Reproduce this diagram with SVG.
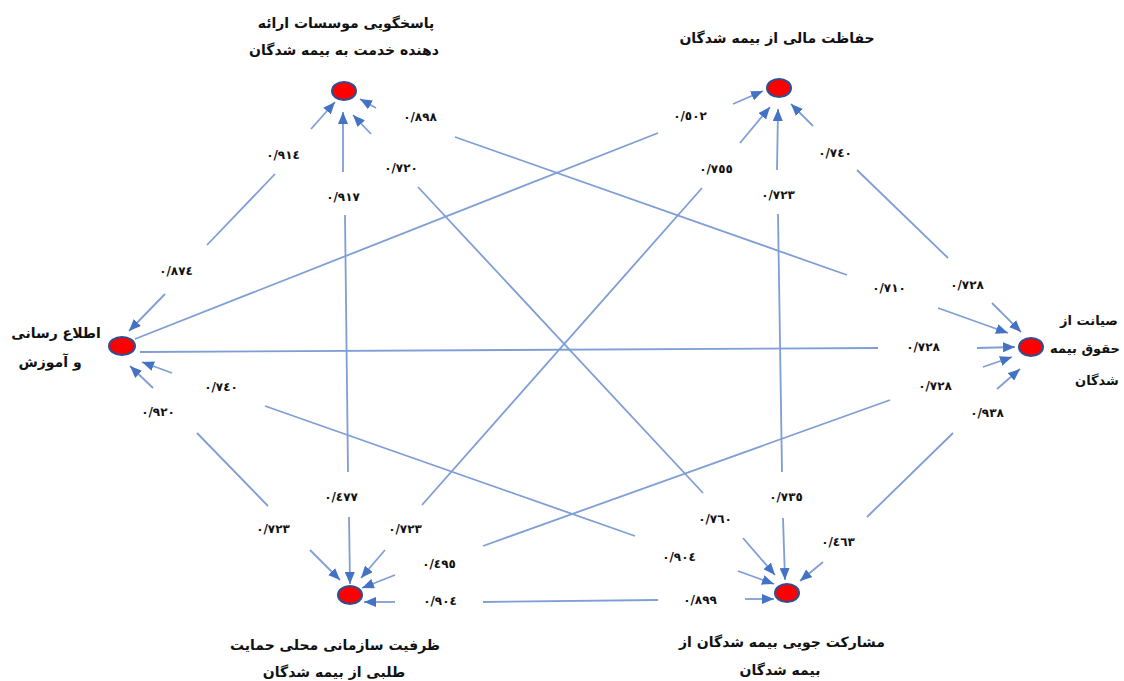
<svg xmlns="http://www.w3.org/2000/svg" width="1124" height="681" viewBox="0 0 1124 681">
<style>
.ln{stroke:#7F9ED6;stroke-width:1.8;fill:none}
.ar{stroke:#7F9ED6;stroke-width:1.8;fill:none;marker-end:url(#ah)}
.nd{fill:#FF0000;stroke:#2F4F8F;stroke-width:2}
.tt{font-family:"DejaVu Sans",sans-serif;font-weight:bold;font-size:14px;fill:#111;text-anchor:middle}
.lb{font-family:"DejaVu Sans",sans-serif;font-weight:bold;font-size:12px;fill:#111;text-anchor:middle}
</style>
<defs>
<marker id="ah" viewBox="0 0 12 10" refX="12" refY="5" markerWidth="12" markerHeight="10" markerUnits="userSpaceOnUse" orient="auto">
<path d="M0,0 L12,5 L0,10 z" fill="#4472C4"/>
</marker>
</defs>
<rect width="1124" height="681" fill="#fff"/>
<g id="connectors">
<g id="e-tl-l"><path class="ar" d="M165,294 L129,331"/><path class="ln" d="M207,245 L275,174"/><path class="ar" d="M311,129 L335,102"/></g>
<g id="e-tl-bl"><path class="ar" d="M343,172 L343,112"/><path class="ln" d="M345,215 L348,472"/><path class="ar" d="M349,517 L350,584"/></g>
<g id="e-tl-br"><path class="ar" d="M371,134 L353,115"/><path class="ln" d="M418,187 L703,493"/><path class="ar" d="M743,538 L775,575"/></g>
<g id="e-tl-r"><path class="ar" d="M376,108 L360,99"/><path class="ln" d="M455,137 L847,275"/><path class="ar" d="M938,308 L1008,333"/></g>
<g id="e-l-tr"><path class="ln" d="M135,339 L658,133"/><path class="ar" d="M733,104 L763,91"/></g>
<g id="e-tr-bl"><path class="ar" d="M740,143 L770,107"/><path class="ln" d="M702,188 L422,505"/><path class="ar" d="M385,550 L361,578"/></g>
<g id="e-tr-br"><path class="ar" d="M777,170 L778,109"/><path class="ln" d="M778,214 L782,472"/><path class="ar" d="M783,518 L785,580"/></g>
<g id="e-tr-r"><path class="ar" d="M813,126 L791,104"/><path class="ln" d="M857,170 L948,258"/><path class="ar" d="M992,303 L1021,332"/></g>
<g id="e-l-r"><path class="ln" d="M140,352 L878,348"/><path class="ar" d="M977,348 L1015,347"/></g>
<g id="e-l-br"><path class="ar" d="M172,373 L142,362"/><path class="ln" d="M265,406 L635,536"/><path class="ar" d="M738,571 L774,584"/></g>
<g id="e-l-bl"><path class="ar" d="M153,388 L130,366"/><path class="ln" d="M197,433 L268,506"/><path class="ar" d="M310,550 L340,580"/></g>
<g id="e-r-bl"><path class="ar" d="M983,367 L1012,357"/><path class="ln" d="M890,400 L483,546"/><path class="ar" d="M395,575 L362,588"/></g>
<g id="e-r-br"><path class="ar" d="M997,389 L1020,369"/><path class="ln" d="M953,433 L867,517"/><path class="ar" d="M823,562 L800,581"/></g>
<g id="e-bl-br"><path class="ar" d="M395,602 L364,602"/><path class="ln" d="M483,602 L658,600"/><path class="ar" d="M745,599 L774,599"/></g>
</g>
<g id="edge-labels">
<text class="lb" x="176" y="275">٠/٨٧٤</text>
<text class="lb" x="283" y="159">٠/٩١٤</text>
<text class="lb" x="343" y="201">٠/٩١٧</text>
<text class="lb" x="341" y="501">٠/٤٧٧</text>
<text class="lb" x="401" y="172">٠/٧٢٠</text>
<text class="lb" x="715" y="523">٠/٧٦٠</text>
<text class="lb" x="420" y="121">٠/٨٩٨</text>
<text class="lb" x="889" y="292">٠/٧١٠</text>
<text class="lb" x="690" y="120">٠/٥٠٢</text>
<text class="lb" x="716" y="173">٠/٧٥٥</text>
<text class="lb" x="405" y="533">٠/٧٢٣</text>
<text class="lb" x="778" y="199">٠/٧٢٣</text>
<text class="lb" x="786" y="501">٠/٧٣٥</text>
<text class="lb" x="835" y="157">٠/٧٤٠</text>
<text class="lb" x="967" y="289">٠/٧٢٨</text>
<text class="lb" x="923" y="351">٠/٧٢٨</text>
<text class="lb" x="221" y="391">٠/٧٤٠</text>
<text class="lb" x="679" y="561">٠/٩٠٤</text>
<text class="lb" x="158" y="416">٠/٩٢٠</text>
<text class="lb" x="273" y="533">٠/٧٢٣</text>
<text class="lb" x="935" y="390">٠/٧٢٨</text>
<text class="lb" x="439" y="568">٠/٤٩٥</text>
<text class="lb" x="987" y="417">٠/٩٣٨</text>
<text class="lb" x="838" y="546">٠/٤٦٣</text>
<text class="lb" x="440" y="605">٠/٩٠٤</text>
<text class="lb" x="700" y="604">٠/٨٩٩</text>
</g>
<g id="node-top-left">
<ellipse class="nd" cx="344" cy="91" rx="12" ry="9"/>
<text class="tt" x="346" y="28">پاسخگویی موسسات ارائه</text>
<text class="tt" x="344" y="55">دهنده خدمت به بیمه شدگان</text>
</g>
<g id="node-top-right">
<ellipse class="nd" cx="779" cy="88" rx="12" ry="9"/>
<text class="tt" x="777" y="43">حفاظت مالی از بیمه شدگان</text>
</g>
<g id="node-left">
<ellipse class="nd" cx="122" cy="346" rx="13" ry="9"/>
<text class="tt" x="56" y="338">اطلاع رسانی</text>
<text class="tt" x="50" y="367">و آموزش</text>
</g>
<g id="node-right">
<ellipse class="nd" cx="1031" cy="347" rx="12" ry="9"/>
<text class="tt" x="1089" y="325" style="font-size:13px">صیانت از</text>
<text class="tt" x="1085" y="353" style="font-size:13px">حقوق بیمه</text>
<text class="tt" x="1097" y="385" style="font-size:13px">شدگان</text>
</g>
<g id="node-bottom-left">
<ellipse class="nd" cx="350" cy="595" rx="12" ry="9"/>
<text class="tt" x="335" y="650">ظرفیت سازمانی محلی حمایت</text>
<text class="tt" x="334" y="677">طلبی از بیمه شدگان</text>
</g>
<g id="node-bottom-right">
<ellipse class="nd" cx="787" cy="593" rx="12" ry="9"/>
<text class="tt" x="782" y="647">مشارکت جویی بیمه شدگان از</text>
<text class="tt" x="780" y="675">بیمه شدگان</text>
</g>
</svg>
